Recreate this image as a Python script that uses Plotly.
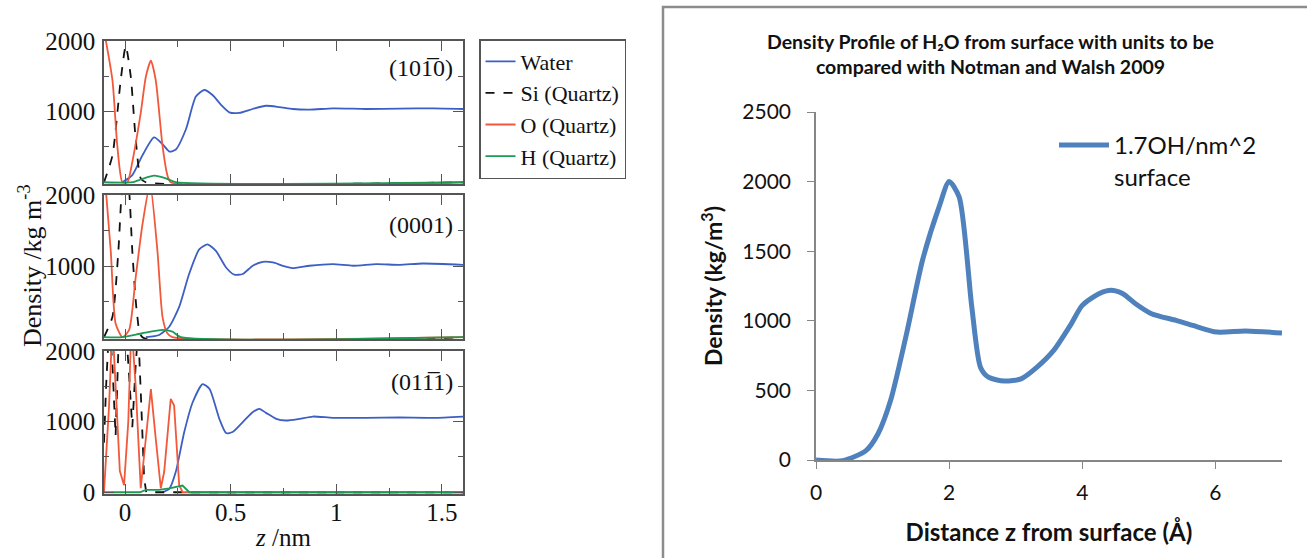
import plotly.graph_objects as go

W, H = 1307, 558
def px(x): return x / W
def py(y): return 1 - y / H

# ---------------- Left figure data (z in nm, density kg/m^3) ----------------
# Panel (10-10)
p1_water_z = [-0.013, 0.034, 0.082, 0.137, 0.177, 0.21, 0.24, 0.288, 0.335, 0.375, 0.414, 0.454, 0.493, 0.54, 0.604, 0.667, 0.73, 0.794, 0.873, 0.984, 1.14, 1.3, 1.46, 1.6]
p1_water_d = [0, 100, 380, 634, 540, 435, 463, 750, 1213, 1306, 1236, 1097, 990, 981, 1037, 1083, 1065, 1037, 1028, 1046, 1037, 1042, 1046, 1037]
p1_si_z = [-0.1, -0.06, -0.021, 0.003, 0.027, 0.05, 0.074, 0.098, 1.6]
p1_si_d = [0, 380, 1444, 1930, 1491, 611, 55, 0, 0]
p1_o_z = [-0.1, -0.06, -0.037, -0.013, 0.011, 0.034, 0.074, 0.098, 0.122, 0.145, 0.177, 0.2, 0.216, 1.6]
p1_o_d = [2150, 1444, 518, 0, 0, 287, 981, 1491, 1722, 1444, 518, 102, 0, 0]
p1_h_z = [-0.1, 0.034, 0.08, 0.137, 0.193, 0.24, 1.6]
p1_h_d = [0, 0, 46, 93, 56, 0, 0]

# Panel (0001)
p2_water_z = [0.098, 0.161, 0.209, 0.256, 0.303, 0.351, 0.39, 0.43, 0.478, 0.517, 0.557, 0.604, 0.652, 0.7, 0.747, 0.8, 0.873, 0.984, 1.08, 1.19, 1.3, 1.41, 1.6]
p2_water_d = [0, 32, 148, 426, 889, 1236, 1306, 1213, 981, 880, 889, 1005, 1060, 1051, 1005, 972, 1005, 1028, 1005, 1028, 1018, 1037, 1018]
p2_si_z = [-0.1, -0.06, -0.032, -0.016, 0.0, 0.019, 0.034, 0.058, 0.082, 1.6]
p2_si_d = [0, 287, 1213, 2050, 2400, 2050, 1213, 287, 0, 0]
p2_o_z = [-0.1, -0.068, -0.045, -0.013, 0.019, 0.05, 0.082, 0.118, 0.153, 0.177, 0.2, 0.224, 1.6]
p2_o_d = [2400, 1213, 194, 0, 102, 843, 1583, 2150, 1213, 287, 55, 0, 0]
p2_h_z = [-0.1, -0.013, 0.082, 0.177, 0.224, 0.264, 1.6]
p2_h_d = [0, 0, 56, 102, 79, 0, 0]

# Panel (01-11)
p3_water_z = [0.177, 0.209, 0.24, 0.28, 0.32, 0.367, 0.4, 0.446, 0.478, 0.509, 0.557, 0.604, 0.636, 0.667, 0.715, 0.762, 0.826, 0.889, 0.984, 1.14, 1.3, 1.46, 1.6]
p3_water_d = [0, 47, 290, 852, 1274, 1532, 1461, 1040, 838, 852, 993, 1133, 1180, 1124, 1040, 1016, 1040, 1072, 1054, 1054, 1058, 1054, 1072]
p3_si_z = [-0.1, -0.09, -0.075, -0.06, -0.045, -0.03, -0.015, 0.0, 0.02, 0.034, 0.05, 0.062, 0.077, 0.09, 0.1, 1.6]
p3_si_d = [700, 1500, 2400, 1800, 800, 2200, 2500, 2500, 1600, 920, 1800, 2300, 1200, 200, 0, 0]
p3_o_z = [-0.1, -0.076, -0.06, -0.045, -0.025, -0.005, 0.015, 0.03, 0.05, 0.074, 0.098, 0.122, 0.145, 0.169, 0.185, 0.216, 0.232, 0.256, 0.272, 1.6]
p3_o_d = [0, 1227, 2400, 1500, 300, 100, 1000, 2400, 1500, 56, 759, 1461, 759, 56, 290, 1321, 1227, 103, 0, 0]
p3_h_z = [-0.1, 0.07, 0.098, 0.16, 0.209, 0.272, 0.304, 1.6]
p3_h_d = [0, 0, 33, 33, 56, 94, 0, 0]

panel_labels = ["(10" + "1\u0305" + "0)", "(0001)", "(01" + "1\u0305" + "1)"]
series_names = ["Water", "Si (Quartz)", "O (Quartz)", "H (Quartz)"]

# ---------------- Right figure data (z in Angstrom) ----------------
r_z = [0, 0.4, 0.75, 0.93, 1.12, 1.36, 1.6, 1.85, 2.0, 2.15, 2.34, 2.47, 2.59, 2.83, 3.08, 3.32, 3.57, 3.82, 4.0, 4.25, 4.43, 4.61, 4.8, 5.04, 5.41, 5.66, 6.02, 6.45, 7.0]
r_d = [0, -5, 67, 187, 427, 907, 1435, 1820, 2000, 1890, 1100, 667, 595, 567, 583, 667, 787, 967, 1111, 1195, 1220, 1195, 1123, 1051, 1003, 967, 919, 927, 912]
r_name = "1.7OH/nm^2<br>surface"

fig = go.Figure()

colors = {"Water": "#3d5fc4", "Si (Quartz)": "#111111", "O (Quartz)": "#f2583a", "H (Quartz)": "#1e9a55"}
dashes = {"Water": "solid", "Si (Quartz)": "dash", "O (Quartz)": "solid", "H (Quartz)": "solid"}

panels = [
    (p1_water_z, p1_water_d, p1_si_z, p1_si_d, p1_o_z, p1_o_d, p1_h_z, p1_h_d),
    (p2_water_z, p2_water_d, p2_si_z, p2_si_d, p2_o_z, p2_o_d, p2_h_z, p2_h_d),
    (p3_water_z, p3_water_d, p3_si_z, p3_si_d, p3_o_z, p3_o_d, p3_h_z, p3_h_d),
]
domains_y = [(184, 41), (339, 195), (494, 351)]
serif = "Liberation Serif"

for i, pdata in enumerate(panels):
    ax = "" if i == 0 else str(i + 1)
    pairs = [(pdata[0], pdata[1]), (pdata[2], pdata[3]), (pdata[4], pdata[5]), (pdata[6], pdata[7])]
    for name, (zz, dd) in zip(series_names, pairs):
        shape = "linear" if (i == 2 and name != "Water") else "spline"
        fig.add_trace(go.Scatter(
            x=zz, y=dd, mode="lines", name=name,
            line=dict(color=colors[name], width=1.8, dash=dashes[name], shape=shape, smoothing=0.6),
            xaxis="x" + ax, yaxis="y" + ax,
            showlegend=(i == 0), legend="legend",
        ))
    yb, yt = domains_y[i]
    tickvals = [0, 1000, 2000] if i == 2 else [1000, 2000]
    fig.update_layout(**{
        "xaxis" + ax: dict(
            domain=[px(104), px(463)], range=[-0.1, 1.6], anchor="y" + ax, automargin=False,
            tickvals=[0, 0.5, 1, 1.5], ticktext=["0", "0.5", "1", "1.5"],
            ticks="inside", ticklen=10, tickcolor="#555", tickwidth=1.2,
            minor=dict(tickvals=[0.25, 0.75, 1.25], ticks="inside", ticklen=6, tickcolor="#555"),
            showline=True, linecolor="#555", linewidth=1.5, mirror="ticks",
            showgrid=False, zeroline=False, showticklabels=(i == 2),
            tickfont=dict(family=serif, size=25, color="#111"), ticklabelstandoff=-5,
        ),
        "yaxis" + ax: dict(
            domain=[py(yb), py(yt)], range=[-25, 2000], anchor="x" + ax, automargin=False,
            tickvals=tickvals, ticks="inside", ticklen=10, tickcolor="#555", tickwidth=1.2,
            minor=dict(tickvals=[500, 1500], ticks="inside", ticklen=5, tickcolor="#555"),
            showline=True, linecolor="#555", linewidth=1.5, mirror="ticks",
            showgrid=False, zeroline=False,
            tickfont=dict(family=serif, size=25, color="#111"), ticklabelstandoff=2,
        ),
    })
    fig.add_annotation(text=panel_labels[i], x=px(455), y=py([68, 225, 382][i]),
                       xref="paper", yref="paper", xanchor="right", yanchor="middle",
                       showarrow=False, font=dict(family=serif, size=24, color="#111"))

# Right chart trace
fig.add_trace(go.Scatter(
    x=r_z, y=r_d, mode="lines", name=r_name,
    line=dict(color="#4f81bd", width=5, shape="spline", smoothing=0.7),
    xaxis="x4", yaxis="y4", legend="legend2",
))

sans = "Lato"
fig.update_layout(
    xaxis4=dict(domain=[px(816), px(1282)], range=[0, 7], anchor="y4", automargin=False,
                tickvals=[0, 2, 4, 6], ticks="outside", ticklen=7, tickcolor="#868686",
                showline=True, linecolor="#868686", linewidth=1.5, showgrid=False, zeroline=False,
                tickfont=dict(family=sans, size=21, color="#111"), ticklabelstandoff=6,
                title=dict(text="<b>Distance z from surface (Å)</b>", font=dict(family=sans, size=24, color="#111"), standoff=21)),
    yaxis4=dict(domain=[py(460), py(112)], range=[0, 2500], anchor="x4", automargin=False,
                tickvals=[0, 500, 1000, 1500, 2000, 2500], ticks="outside", ticklen=7, tickcolor="#868686",
                showline=True, linecolor="#868686", linewidth=1.5, showgrid=False, zeroline=False,
                tickfont=dict(family=sans, size=21, color="#111"), ticklabelstandoff=12,
                title=dict(text="<b>Density (kg/m<sup>3</sup>)</b>", font=dict(family=sans, size=23, color="#111"), standoff=13)),
)

# Left axis titles
fig.add_annotation(text="Density /kg m<sup>-3</sup>", x=px(31), y=py(266), xref="paper", yref="paper",
                   xanchor="center", yanchor="middle",
                   textangle=-90, showarrow=False, font=dict(family=serif, size=26, color="#111"))
fig.add_annotation(text="<i>z</i> /nm", x=px(283), y=py(537), xref="paper", yref="paper",
                   xanchor="center", yanchor="middle",
                   showarrow=False, font=dict(family=serif, size=25, color="#111"))

# Right title
fig.add_annotation(text="<b>Density Profile of H₂O from surface with units to be<br>compared with Notman and Walsh 2009</b>",
                   x=px(990), y=py(54), xref="paper", yref="paper", xanchor="center", yanchor="middle",
                   showarrow=False, font=dict(family=sans, size=19.5, color="#111"))

# Right chart border
fig.add_shape(type="rect", xref="paper", yref="paper", x0=px(663), x1=px(1330), y0=py(580), y1=py(7),
              line=dict(color="#8c8c8c", width=2.5), fillcolor="rgba(0,0,0,0)", layer="below")

fig.update_layout(
    width=W, height=H, margin=dict(l=0, r=0, t=0, b=0, autoexpand=False),
    paper_bgcolor="white", plot_bgcolor="white",
    legend=dict(x=px(479), y=py(39), xanchor="left", yanchor="top",
                bordercolor="#555", borderwidth=1.5, bgcolor="white",
                font=dict(family=serif, size=22, color="#111"), itemwidth=30, tracegroupgap=0),
    legend2=dict(x=px(1054), y=py(123), xanchor="left", yanchor="top", valign="top",
                 bgcolor="rgba(0,0,0,0)", font=dict(family=sans, size=24, color="#111"), itemwidth=50),
)

fig.write_html("out.html", config={"displayModeBar": False},
               post_script="document.body.style.margin='0px';")
